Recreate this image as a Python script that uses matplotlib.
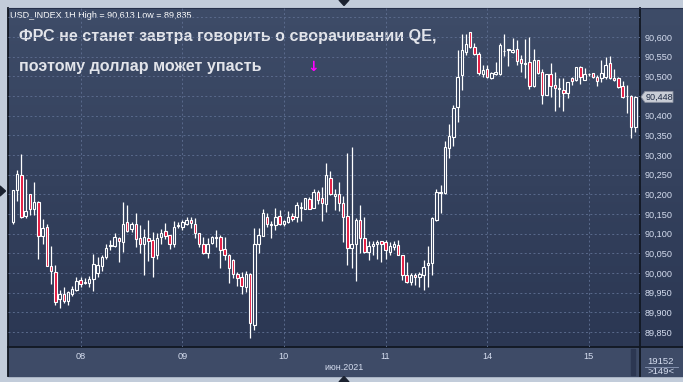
import numpy as np
import matplotlib
matplotlib.use('Agg')
import matplotlib.pyplot as plt
from matplotlib.patches import Rectangle, Polygon

plt.rcParams['font.family'] = ['Liberation Sans', 'DejaVu Sans']

# hourly USD_INDEX candles, 7..15 june 2021
opens = [
    90.130, 90.211, 90.249, 90.146, 90.200, 90.162, 90.180, 90.095, 90.116, 90.019,
    90.003, 89.933, 89.948, 89.930, 89.947, 89.957, 89.982, 89.975, 89.975, 89.986,
    90.001, 90.019, 90.041, 90.070, 90.069, 90.088, 90.080, 90.129, 90.112, 90.125,
    90.088, 90.073, 90.088, 90.084, 90.046, 90.091, 90.107, 90.096, 90.074, 90.119,
    90.116, 90.125, 90.135, 90.126, 90.101, 90.073, 90.050, 90.077, 90.091, 90.091,
    90.060, 90.047, 90.033, 89.997, 89.989, 89.964, 89.997, 89.868, 90.075, 90.095,
    90.143, 90.126, 90.121, 90.146, 90.126, 90.130, 90.145, 90.143, 90.166, 90.164,
    90.188, 90.166, 90.205, 90.190, 90.175, 90.243, 90.196, 90.201, 90.177, 90.145,
    90.063, 90.075, 90.135, 90.088, 90.054, 90.069, 90.074, 90.081, 90.078, 90.053,
    90.067, 90.071, 90.046, 89.995, 89.978, 89.995, 89.989, 89.995, 90.020, 90.025,
    90.135, 90.204, 90.204, 90.319, 90.347, 90.423, 90.503, 90.561, 90.613, 90.575,
    90.556, 90.506, 90.518, 90.497, 90.506, 90.506, 90.564, 90.569, 90.563, 90.570,
    90.544, 90.533, 90.536, 90.476, 90.542, 90.510, 90.454, 90.505, 90.478, 90.470,
    90.465, 90.459, 90.495, 90.491, 90.523, 90.492, 90.506, 90.508, 90.498, 90.495,
    90.498, 90.533, 90.497, 90.495, 90.475, 90.451, 90.450, 90.372]
highs = [
    90.211, 90.262, 90.303, 90.238, 90.202, 90.231, 90.183, 90.137, 90.126, 90.069,
    90.020, 89.957, 89.965, 89.954, 89.968, 89.991, 89.991, 89.988, 89.992, 90.048,
    90.041, 90.046, 90.074, 90.084, 90.101, 90.092, 90.180, 90.173, 90.130, 90.152,
    90.122, 90.112, 90.135, 90.105, 90.103, 90.111, 90.128, 90.098, 90.133, 90.130,
    90.135, 90.143, 90.143, 90.139, 90.103, 90.091, 90.088, 90.094, 90.109, 90.097,
    90.091, 90.049, 90.037, 90.003, 90.003, 90.006, 89.999, 90.114, 90.114, 90.164,
    90.152, 90.132, 90.166, 90.160, 90.136, 90.158, 90.152, 90.181, 90.181, 90.191,
    90.194, 90.215, 90.211, 90.218, 90.281, 90.259, 90.215, 90.231, 90.196, 90.306,
    90.321, 90.139, 90.173, 90.143, 90.081, 90.081, 90.084, 90.082, 90.084, 90.080,
    90.081, 90.084, 90.047, 90.029, 89.999, 89.999, 90.003, 90.033, 90.069, 90.143,
    90.214, 90.224, 90.336, 90.378, 90.427, 90.567, 90.609, 90.609, 90.613, 90.584,
    90.563, 90.529, 90.529, 90.512, 90.537, 90.584, 90.607, 90.571, 90.598, 90.592,
    90.554, 90.595, 90.601, 90.570, 90.543, 90.520, 90.506, 90.535, 90.512, 90.497,
    90.497, 90.486, 90.499, 90.524, 90.526, 90.522, 90.509, 90.509, 90.503, 90.542,
    90.550, 90.552, 90.520, 90.499, 90.488, 90.478, 90.453, 90.450]
lows = [
    90.125, 90.183, 90.140, 90.141, 90.147, 90.147, 90.037, 90.075, 90.017, 89.971,
    89.920, 89.910, 89.923, 89.920, 89.942, 89.954, 89.965, 89.971, 89.965, 89.955,
    89.989, 90.006, 90.037, 90.058, 90.067, 90.029, 90.053, 90.105, 90.105, 90.067,
    90.052, 89.995, 90.031, 89.991, 90.037, 90.074, 90.086, 90.061, 90.067, 90.114,
    90.109, 90.122, 90.115, 90.088, 90.067, 90.048, 90.039, 90.075, 90.067, 90.012,
    90.033, 89.975, 89.988, 89.968, 89.946, 89.952, 89.835, 89.855, 90.052, 90.093,
    90.118, 90.090, 90.109, 90.122, 90.120, 90.128, 90.132, 90.130, 90.133, 90.162,
    90.163, 90.165, 90.175, 90.133, 90.156, 90.198, 90.160, 90.158, 90.080, 90.020,
    90.013, 89.980, 90.050, 90.050, 90.033, 90.046, 90.036, 90.027, 90.037, 90.046,
    90.058, 90.045, 89.982, 89.974, 89.969, 89.969, 89.965, 89.957, 89.965, 89.995,
    90.133, 90.152, 90.202, 90.292, 90.324, 90.385, 90.465, 90.554, 90.572, 90.554,
    90.503, 90.498, 90.495, 90.493, 90.503, 90.503, 90.552, 90.527, 90.559, 90.529,
    90.512, 90.495, 90.467, 90.472, 90.505, 90.430, 90.453, 90.448, 90.412, 90.423,
    90.412, 90.444, 90.478, 90.488, 90.482, 90.491, 90.501, 90.497, 90.476, 90.486,
    90.493, 90.493, 90.488, 90.470, 90.446, 90.406, 90.344, 90.358]
closes = [
    90.211, 90.251, 90.143, 90.158, 90.162, 90.180, 90.095, 90.114, 90.019, 90.005,
    89.927, 89.948, 89.930, 89.952, 89.959, 89.980, 89.971, 89.977, 89.986, 90.022,
    90.020, 90.041, 90.065, 90.071, 90.091, 90.082, 90.126, 90.107, 90.125, 90.086,
    90.073, 90.091, 90.082, 90.041, 90.088, 90.102, 90.095, 90.073, 90.116, 90.121,
    90.130, 90.135, 90.128, 90.101, 90.073, 90.050, 90.075, 90.091, 90.090, 90.058,
    90.047, 90.012, 89.997, 89.988, 89.967, 89.997, 89.872, 90.075, 90.098, 90.153,
    90.125, 90.121, 90.143, 90.125, 90.133, 90.142, 90.138, 90.173, 90.167, 90.190,
    90.164, 90.205, 90.187, 90.177, 90.249, 90.200, 90.201, 90.177, 90.143, 90.063,
    90.075, 90.135, 90.088, 90.054, 90.069, 90.074, 90.078, 90.073, 90.058, 90.069,
    90.074, 90.046, 89.995, 89.978, 89.995, 89.989, 89.997, 90.016, 90.025, 90.139,
    90.207, 90.205, 90.321, 90.348, 90.419, 90.499, 90.567, 90.582, 90.574, 90.556,
    90.508, 90.516, 90.498, 90.508, 90.511, 90.580, 90.565, 90.568, 90.567, 90.539,
    90.533, 90.532, 90.476, 90.542, 90.508, 90.454, 90.505, 90.475, 90.471, 90.469,
    90.459, 90.485, 90.489, 90.523, 90.498, 90.505, 90.507, 90.498, 90.489, 90.508,
    90.529, 90.495, 90.491, 90.474, 90.447, 90.450, 90.372, 90.448]

day_ticks = [16, 40, 64, 88, 112, 136]
day_labels = ['08', '09', '10', '11', '14', '15']
price_ticks = [89.85, 89.90, 89.95, 90.00, 90.05, 90.10, 90.15, 90.20, 90.25,
               90.30, 90.35, 90.40, 90.50, 90.55, 90.60]
last_price = 90.448

W, H = 683, 382
fig = plt.figure(figsize=(W / 100, H / 100), dpi=100)
fig.patch.set_facecolor('#c2ccda')

# background layer in pixel coords
bg = fig.add_axes([0, 0, 1, 1], zorder=0)
bg.set_xlim(0, W)
bg.set_ylim(H, 0)
bg.axis('off')
top = np.array([62, 76, 104]) / 255
bot = np.array([43, 55, 83]) / 255
t = np.linspace(0, 1, 256)[:, None, None]
bg.imshow(top + (bot - top) * t, extent=[8, W, 347, 8], aspect='auto', interpolation='bilinear')
bg.add_patch(Rectangle((8, 347), W - 8, 29, color='#3e4b67'))
bg.add_patch(Rectangle((631, 349), 4, 26, color='#2c3752'))
bg.plot([8, 8], [8, 376], color='#111722', lw=1.3)
bg.plot([640, 640], [8, 376], color='#111722', lw=1.3)
bg.plot([8, W], [347, 347], color='#111722', lw=1.3)
bg.plot([8, W], [8, 8], color='#26304a', lw=0.8)
for pts in ([[339, 0], [349, 0], [344, 5.5]], [[339, 382], [349, 382], [344, 376.5]],
            [[0, 186], [0, 196], [5.5, 191]]):
    bg.add_patch(Polygon(pts, closed=True, color='#1b2230'))

bg.text(661, 361, '19152', color='#d5ddef', fontsize=6.8, ha='center', va='center')
bg.plot([645, 678], [366.5, 366.5], color='#8d9bb8', lw=0.6)
bg.text(661, 372, '>149<', color='#d5ddef', fontsize=6.8, ha='center', va='center')
bg.text(344, 367, 'июн.2021', color='#d5ddef', fontsize=6.5, ha='center', va='center')

bg.text(10, 15.5, 'USD_INDEX 1H High = 90,613 Low = 89,835', color='white',
        fontsize=6.5, va='center')
bg.text(19, 37, 'ФРС не станет завтра говорить о сворачивании QE,', color='#e2e4ea',
        fontsize=11.6, fontweight='bold', va='center')
bg.text(19, 66, 'поэтому доллар может упасть', color='#e2e4ea',
        fontsize=11.6, fontweight='bold', va='center')
bg.text(313, 66.5, '↓', color='#ff00ff', fontsize=10, fontweight='bold',
        ha='center', va='center', family='DejaVu Sans')

# main price axes
ax = fig.add_axes([8 / W, 1 - 347 / H, 632 / W, 339 / H], zorder=1)
ax.patch.set_alpha(0)
ax.set_xlim(-1.17, 148.1)
ax.set_ylim(89.812, 90.674)
for s in ax.spines.values():
    s.set_visible(False)

grid_kw = dict(color='#5a6a8c', lw=0.7, ls=(0, (2, 2.5)), zorder=0)
for v in np.arange(89.85, 90.66, 0.05):
    ax.axhline(v, **grid_kw)
for d in day_ticks:
    ax.axvline(d, **grid_kw)

o = np.array(opens)
h = np.array(highs)
l = np.array(lows)
c = np.array(closes)
idx = np.arange(len(o))
up = c >= o
ax.vlines(idx, l, h, color='white', lw=0.9, zorder=2)
bodies = np.maximum(np.abs(c - o), 0.0008)
ax.bar(idx, bodies, bottom=np.minimum(o, c), width=0.58,
       color=np.where(up, '#35425f', '#e3163d'), edgecolor='white', linewidth=0.8, zorder=3)

ax.yaxis.tick_right()
ax.set_yticks(price_ticks)
ax.set_yticklabels([f'{v:.3f}'.replace('.', ',') for v in price_ticks])
ax.tick_params(axis='y', length=0, pad=3, labelsize=6.6, labelcolor='#d5ddef')
ax.set_xticks(day_ticks)
ax.set_xticklabels(day_labels)
ax.tick_params(axis='x', length=0, pad=3.5, labelsize=6.6, labelcolor='#d5ddef')

# last price marker
yp = 347 - (last_price - 89.812) / (90.674 - 89.812) * 339
bg.add_patch(Polygon([[641, yp], [645, yp - 5.5], [673, yp - 5.5], [673, yp + 5.5], [645, yp + 5.5]],
                     closed=True, facecolor='#c9cdd6', edgecolor='#8a90a0', lw=0.6, zorder=5))
bg.text(659, yp, f'{last_price:.3f}'.replace('.', ','), color='#1e2a44', fontsize=6.6,
        ha='center', va='center', zorder=6)

fig.savefig('out.png', dpi=100, facecolor=fig.get_facecolor())
